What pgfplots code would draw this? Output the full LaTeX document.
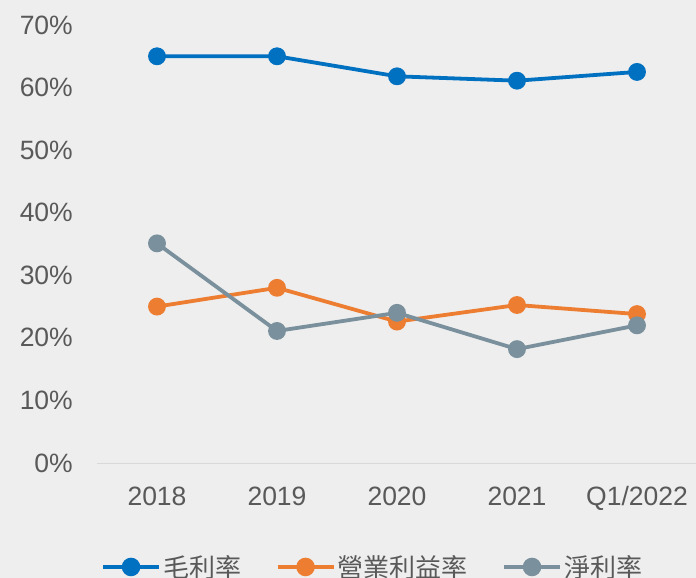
\documentclass[border=0pt]{standalone}
\usepackage{fontspec}
\setmainfont{Liberation Sans}
\newfontfamily\cjk{Noto Sans CJK TC}
\usepackage{pgfplots}
\pgfplotsset{compat=1.18}
\definecolor{bg}{HTML}{EEEEEE}
\definecolor{tickgray}{HTML}{595959}
\definecolor{axgray}{HTML}{D9D9D9}
\definecolor{cblue}{HTML}{0070C0}
\definecolor{corange}{HTML}{ED7D31}
\definecolor{cgray}{HTML}{7A909C}
\begin{document}
\begin{tikzpicture}
\fill[bg] (0bp,0bp) rectangle (696bp,578bp);
\useasboundingbox (0bp,0bp) rectangle (696bp,578bp);
\begin{axis}[
  at={(97bp,115bp)}, anchor=south west,
  width=600bp, height=438bp, scale only axis,
  xmin=-0.5, xmax=4.5, ymin=0, ymax=70,
  axis x line*=bottom, axis y line*=left,
  y axis line style={draw=none},
  x axis line style={draw=axgray, line width=1bp},
  tick style={draw=none},
  xtick={0,1,2,3,4},
  xticklabels={2018,2019,2020,2021,Q1/2022},
  ytick={0,10,20,30,40,50,60,70},
  yticklabel={\pgfmathprintnumber{\tick}\%},
  /pgf/number format/assume math mode=true,
  ticklabel style={font=\fontsize{26.5bp}{30bp}\selectfont, text=tickgray, inner sep=0pt},
  yticklabel style={anchor=east, xshift=-24bp},
  xticklabel style={anchor=base, yshift=-42bp},
  every axis plot/.append style={line width=3.8bp, mark=*, mark size=7bp},
  legend image code/.code={\draw[line width=4.5bp, mark repeat=2, mark phase=2] plot coordinates {(0bp,0bp) (28bp,0bp) (56bp,0bp)};},
  legend columns=-1,
  legend style={at={(axis description cs:0.006,-0.2374)}, anchor=west, draw=none, fill=none, inner sep=0pt,
    font=\cjk\fontsize{26bp}{30bp}\selectfont, text=tickgray,
    nodes={inner sep=2bp},
    /tikz/every even column/.append style={column sep=32bp}},
  clip=false,
]
\addplot[cblue, mark options={fill=cblue, draw=cblue}] coordinates {(0,65.0) (1,65.0) (2,61.8) (3,61.1) (4,62.5)};
\addlegendentry{毛利率}
\addplot[corange, mark options={fill=corange, draw=corange}] coordinates {(0,25.0) (1,28.0) (2,22.6) (3,25.25) (4,23.8)};
\addlegendentry{營業利益率}
\addplot[cgray, mark options={fill=cgray, draw=cgray}] coordinates {(0,35.1) (1,21.1) (2,24.0) (3,18.2) (4,22.0)};
\addlegendentry{淨利率}
\end{axis}
\end{tikzpicture}
\end{document}
